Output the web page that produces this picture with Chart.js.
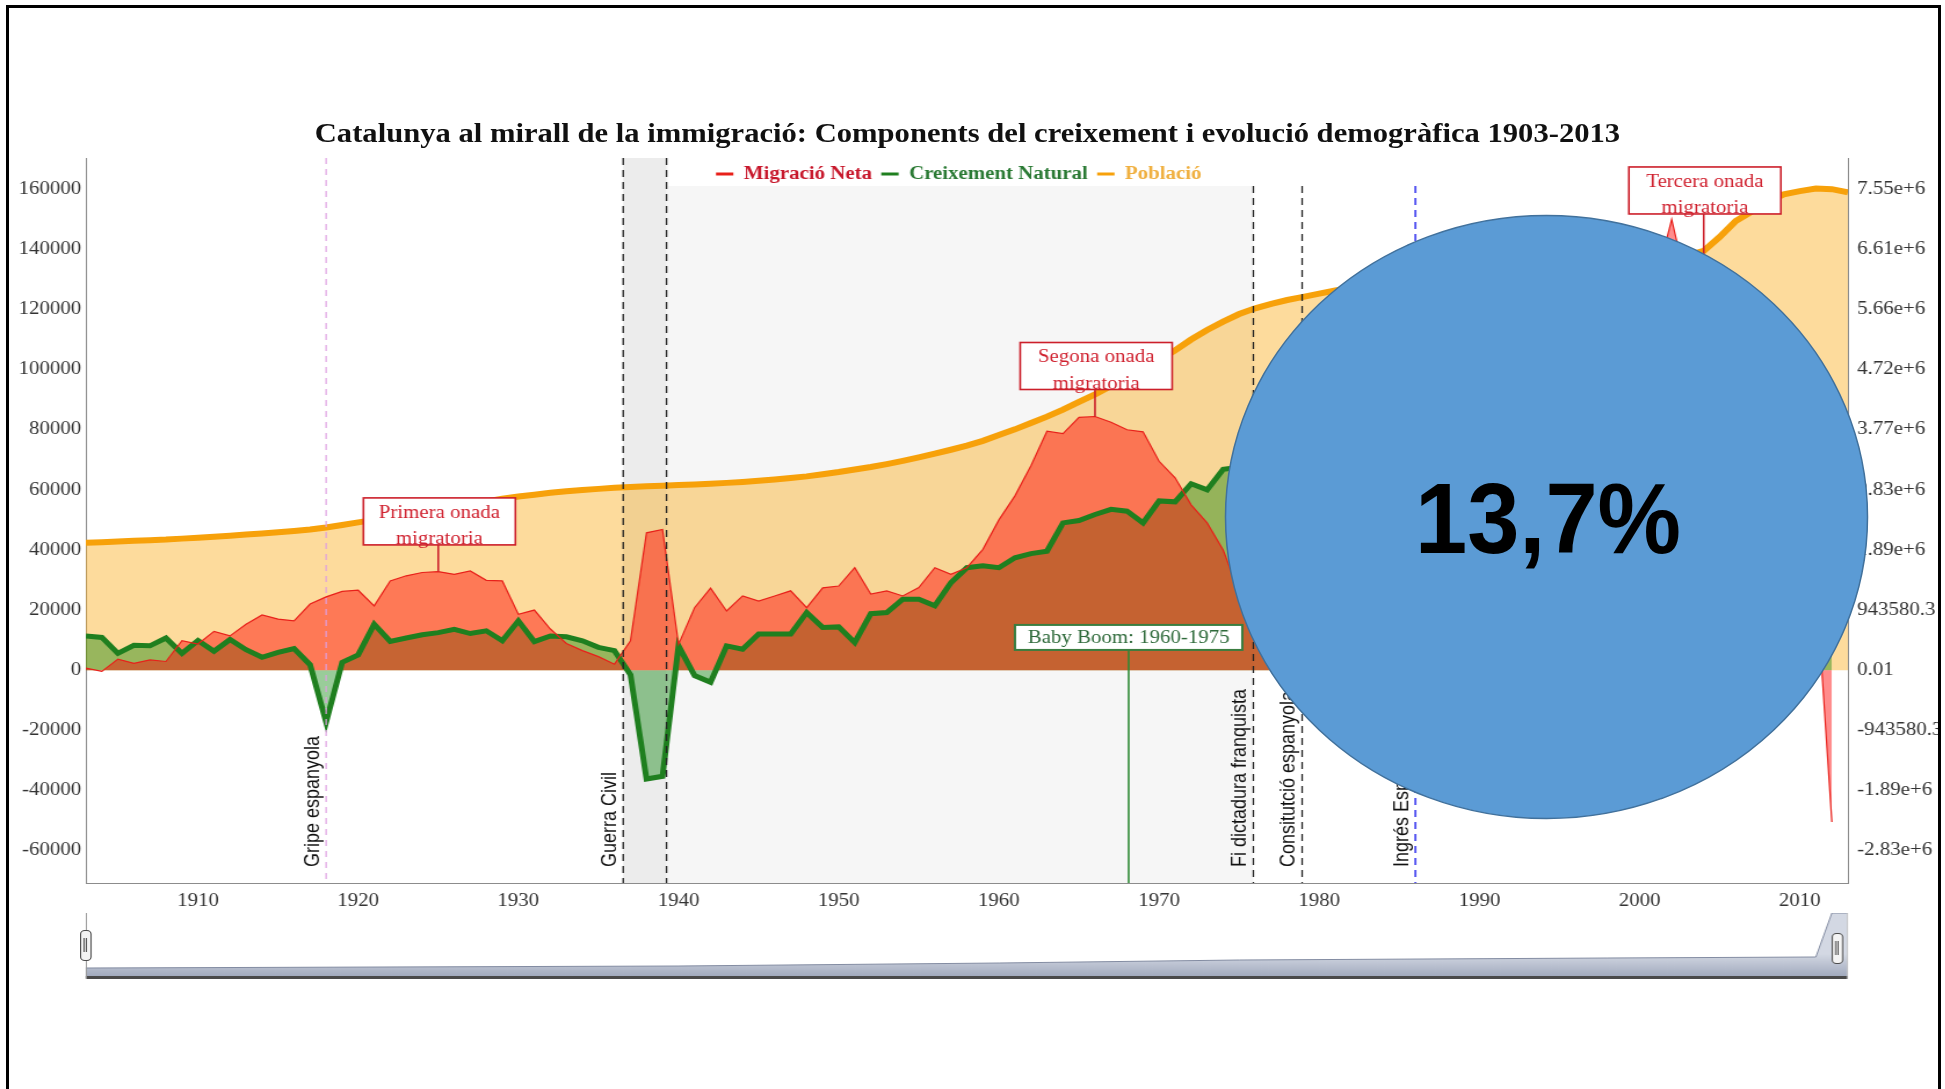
<!DOCTYPE html>
<html>
<head>
<meta charset="utf-8">
<script src="https://cdn.jsdelivr.net/npm/chart.js@4.4.1/dist/chart.umd.min.js"></script>
<style>
  html, body { margin: 0; padding: 0; background: #fff; width: 1945px; height: 1089px; overflow: hidden; }
  #frame { position: absolute; left: 6px; top: 5px; width: 1929px; height: 1200px; border: 3px solid #000; overflow: hidden; background: #fff; }
  #stage { position: absolute; left: -9px; top: -8px; width: 1677px; height: 1089px; transform: scaleX(1.16); transform-origin: 0 0; }
  #title { position: absolute; left: 0; top: 118px; width: 1668px; text-align: center; font: bold 26.4px "Liberation Serif"; line-height: 30px; color: #111; white-space: nowrap; }
  #chart { position: absolute; left: 0; top: 0; }
  #nav { position: absolute; left: 74px; top: 913px; }
  .navline { position: absolute; background: #9a9a9a; }
  .handle { position: absolute; width: 10px; height: 31px; background: #f4f4f4; border: 1.5px solid #4c4c4c; border-radius: 4px; box-sizing: border-box; }
  .handle::after { content: ''; position: absolute; left: 2px; top: 7px; width: 1px; height: 14px; border-left: 1px solid #4c4c4c; border-right: 1px solid #4c4c4c; }
  #badge { position: absolute; left: -9px; top: -8px; }
</style>
</head>
<body>
<div id="frame">
  <div id="stage">
    <div id="title">Catalunya al mirall de la immigració: Components del creixement i evolució demogràfica 1903-2013</div>
    <canvas id="chart" width="1677" height="1089"></canvas>
    <canvas id="nav" width="1519" height="65"></canvas>
    <div class="navline" style="left:74px;top:976px;width:1519px;height:3px;background:#4a4a4a"></div>
    <div class="navline" style="left:74px;top:913px;width:1px;height:66px"></div>
    <div class="navline" style="left:1592px;top:913px;width:1px;height:66px;background:#c8c8c8"></div>
    <div class="handle" style="left:69px;top:930px"></div>
    <div class="handle" style="left:1579px;top:933px"></div>
  </div>
  <svg id="badge" width="1945" height="1089">
    <ellipse cx="1546.5" cy="517" rx="321" ry="301.5" fill="#5b9bd5" stroke="#41719c" stroke-width="1.5"></ellipse>
    <text x="1548" y="553" text-anchor="middle" font-family="Liberation Sans" font-weight="bold" font-size="100" textLength="266" lengthAdjust="spacingAndGlyphs" fill="#000">13,7%</text>
  </svg>
</div>
<script>
// years on the x axis
var years = [
  1903, 1904, 1905, 1906, 1907, 1908, 1909,
  1910, 1911, 1912, 1913, 1914, 1915, 1916, 1917, 1918, 1919,
  1920, 1921, 1922, 1923, 1924, 1925, 1926, 1927, 1928, 1929,
  1930, 1931, 1932, 1933, 1934, 1935, 1936, 1937, 1938, 1939,
  1940, 1941, 1942, 1943, 1944, 1945, 1946, 1947, 1948, 1949,
  1950, 1951, 1952, 1953, 1954, 1955, 1956, 1957, 1958, 1959,
  1960, 1961, 1962, 1963, 1964, 1965, 1966, 1967, 1968, 1969,
  1970, 1971, 1972, 1973, 1974, 1975, 1976, 1977, 1978, 1979,
  1980, 1981, 1982, 1983, 1984, 1985, 1986, 1987, 1988, 1989,
  1990, 1991, 1992, 1993, 1994, 1995, 1996, 1997, 1998, 1999,
  2000, 2001, 2002, 2003, 2004, 2005, 2006, 2007, 2008, 2009,
  2010, 2011, 2012, 2013
];

// Migració Neta (persones/any)
var migracio = [
  700, -400, 3700, 2300, 3400, 2900, 9800,
  8700, 12900, 11400, 15300, 18400, 17000, 16400, 22000, 24400, 26200,
  26600, 21400, 29700, 31400, 32500, 32800, 31900, 33000, 29900, 29700,
  18600, 20000, 13700, 8900, 6500, 4500, 2000, 9800, 45700, 46800,
  8600, 20800, 27300, 19700, 24700, 23000, 24700, 26400, 20800, 27400,
  28000, 34100, 25300, 26400, 24700, 27500, 34100, 31900, 34100, 40200,
  50000, 58000, 68000, 79500, 78700, 84100, 84400, 82500, 80000, 79300,
  69500, 64000, 55000, 49000, 40000, 26000, 18000, 12000, 6000, 2000,
  -2000, -4000, -3000, -1000, 0, 2000, 4000, 6000, 8000, 10000,
  12000, 13000, 14000, 12000, 15000, 18000, 22000, 30000, 45000, 70000,
  100000, 129000, 150000, 127000, 120000, 110000, 100000, 95000, 75000, 40000,
  25000, 30000, -50500, null
];

// Creixement Natural (persones/any)
var creixement = [
  11400, 10900, 5600, 8300, 8100, 10700, 5600,
  9900, 6300, 10200, 6800, 4300, 5900, 7200, 1800, -17300, 2600,
  5100, 15300, 9600, 10700, 11800, 12500, 13600, 12200, 13100, 9800,
  16400, 9500, 11400, 11100, 9800, 7600, 6500, -1500, -36200, -35300,
  8100, -1800, -4000, 8100, 7000, 12000, 12000, 12000, 19200, 14200,
  14400, 9200, 18800, 19200, 23600, 23600, 21400, 29100, 34100, 34700,
  34100, 37400, 38800, 39600, 49000, 49800, 51800, 53500, 52900, 49000,
  56300, 56000, 62000, 60000, 66800, 67500, 66000, 60000, 52000, 44000,
  36000, 28000, 22000, 17000, 13000, 10000, 8000, 6000, 5000, 4000,
  3000, 2500, 2500, 2000, 2000, 1500, 2000, 3000, 4000, 6000,
  8000, 10000, 12000, 13000, 15000, 17000, 19000, 20000, 23000, 20000,
  19000, 16000, 12000, null
];

// Població (persones), eix dret
var poblacio = [
  2000000, 2010000, 2020000, 2030000, 2040000, 2050000, 2065000,
  2080000, 2095000, 2110000, 2128000, 2146000, 2165000, 2185000, 2207000, 2240000, 2280000,
  2320000, 2360000, 2400000, 2440000, 2485000, 2530000, 2570000, 2610000, 2650000, 2690000,
  2725000, 2755000, 2785000, 2808000, 2828000, 2846000, 2862000, 2875000, 2886000, 2896000,
  2906000, 2916000, 2927000, 2940000, 2955000, 2972000, 2992000, 3015000, 3042000, 3075000,
  3110000, 3150000, 3190000, 3235000, 3285000, 3340000, 3400000, 3460000, 3525000, 3600000,
  3690000, 3780000, 3880000, 3980000, 4090000, 4210000, 4330000, 4460000, 4590000, 4730000,
  4870000, 5020000, 5190000, 5340000, 5470000, 5590000, 5680000, 5750000, 5810000, 5860000,
  5910000, 5960000, 6000000, 6030000, 6050000, 6070000, 6080000, 6090000, 6100000, 6110000,
  6120000, 6130000, 6140000, 6150000, 6160000, 6170000, 6180000, 6200000, 6230000, 6280000,
  6330000, 6380000, 6440000, 6510000, 6580000, 6800000, 7050000, 7200000, 7350000, 7470000,
  7520000, 7560000, 7550000, 7500000
];

var xTicks = [1910, 1920, 1930, 1940, 1950, 1960, 1970, 1980, 1990, 2000, 2010];
var leftTicks = [-60000, -40000, -20000, 0, 20000, 40000, 60000, 80000, 100000, 120000, 140000, 160000];
var rightTickLabels = ['-2.83e+6', '-1.89e+6', '-943580.3', '0.01', '943580.3', '1.89e+6', '2.83e+6', '3.77e+6', '4.72e+6', '5.66e+6', '6.61e+6', '7.55e+6'];
var ratio = 943580.3 / 20000;

// esdeveniments (línies verticals)
var eventYears = [1918.0, 1936.545, 1939.25, 1975.886, 1978.93, 1986.0];
var eventLabels = ['Gripe espanyola', 'Guerra Civil', '', 'Fi dictadura franquista', 'Consitutció espanyola', 'Ingrés Espanya a la CEE'];

// mini gràfic del navegador
var navYears = [1903, 1940, 1960, 1975, 1998, 2011, 2012, 2013];
var navValues = [10, 12, 15, 18, 20, 21, 65, 65];

var seriesNames = ['Migració Neta', 'Creixement Natural', 'Població'];
var legendTextColors = ['#c8182c', '#2a7a34', '#f0b040'];

function pts(arr) {
  return years.map(function (yr, i) { return { x: yr, y: arr[i] }; });
}

var decor = {
  id: 'decor',
  afterLayout: function (chart) {
    var lg = chart.legend;
    lg.top = 157; lg.bottom = 197; lg.height = 40;
    lg.left -= 12; lg.right -= 12;
  },
  beforeDraw: function (chart) {
    var c = chart.ctx, a = chart.chartArea, x = chart.scales.x;
    var p1 = x.getPixelForValue(eventYears[1]);
    var p2 = x.getPixelForValue(eventYears[2]);
    var p3 = x.getPixelForValue(eventYears[3]);
    c.save();
    c.fillStyle = '#f6f6f6';
    c.fillRect(p2, a.top, p3 - p2, a.bottom - a.top);
    c.fillStyle = '#ececec';
    c.fillRect(p1, a.top, p2 - p1, a.bottom - a.top);
    // fons blanc de la llegenda
    c.fillStyle = '#fff';
    c.fillRect(p2 + 1, a.top, x.getPixelForValue(1987) - p2, 28);
    c.restore();
  },
  afterDatasetsDraw: function (chart) {
    var c = chart.ctx, a = chart.chartArea, x = chart.scales.x, y = chart.scales.y;
    var colors = ['#de9ee2', '#222', '#222', '#222', '#222', '#5050f0'];
    var widths = [1.2, 1.3, 1.3, 1.3, 1.3, 1.8];
    c.save();
    eventYears.forEach(function (yr, i) {
      var px = x.getPixelForValue(yr);
      var top = (yr > 1939.3 && yr < 1987) ? a.top + 28 : a.top;
      c.strokeStyle = colors[i];
      c.lineWidth = widths[i];
      c.setLineDash(i === 0 ? [6, 5] : [7, 5]);
      c.beginPath();
      c.moveTo(px, top);
      c.lineTo(px, a.bottom);
      c.stroke();
      if (eventLabels[i]) {
        c.save();
        c.translate(px - 2, a.bottom - 16);
        c.rotate(-Math.PI / 2);
        c.textAlign = 'left';
        c.textBaseline = 'bottom';
        c.fillStyle = '#111';
        c.font = '18px "Liberation Sans"';
        c.fillText(eventLabels[i], 0, 0);
        c.restore();
      }
    });
    c.setLineDash([]);

    // anotacions
    var notes = [
      { yr: 1925, val: 49500, lines: ['Primera onada', 'migratoria'] },
      { yr: 1966, val: 101200, lines: ['Segona onada', 'migratoria'] },
      { yr: 2004, val: 159600, lines: ['Tercera onada', 'migratoria'] }
    ];
    c.font = '18px "Liberation Serif"';
    c.textAlign = 'center';
    c.textBaseline = 'middle';
    notes.forEach(function (n) {
      var cx = x.getPixelForValue(n.yr) + 1, cy = y.getPixelForValue(n.val);
      var w = 131, h = 47, top = cy - h / 2;
      var target = y.getPixelForValue(migracio[years.indexOf(n.yr)]);
      c.strokeStyle = '#cc1f2a';
      c.lineWidth = 1.6;
      c.beginPath();
      c.moveTo(cx - 1, top + h);
      c.lineTo(cx - 1, target);
      c.stroke();
      c.fillStyle = '#fff';
      c.fillRect(cx - w / 2, top, w, h);
      c.fillStyle = '#d0202e';
      c.fillText(n.lines[0], cx, top + 15);
      c.fillText(n.lines[1], cx, top + 41.5);
      c.strokeRect(cx - w / 2, top, w, h);
    });

    // Baby Boom
    var bx = x.getPixelForValue(1968.1), by = y.getPixelForValue(10900);
    c.strokeStyle = '#2f8a36';
    c.lineWidth = 1.6;
    c.beginPath();
    c.moveTo(bx, by + 12.5);
    c.lineTo(bx, a.bottom);
    c.stroke();
    c.fillStyle = '#fff';
    c.fillRect(bx - 98, by - 12.5, 196, 25);
    c.lineWidth = 2;
    c.strokeStyle = '#3a7d40';
    c.strokeRect(bx - 98, by - 12.5, 196, 25);
    c.fillStyle = '#2e6a3a';
    c.fillText('Baby Boom: 1960-1975', bx, by + 1);
    c.restore();
  }
};

var tickFont = { family: 'Liberation Serif', size: 18 };

new Chart(document.getElementById('chart').getContext('2d'), {
  type: 'line',
  data: {
    datasets: [
      {
        label: seriesNames[0], data: pts(migracio), order: 0,
        borderColor: '#e8201a', borderWidth: 1.2,
        backgroundColor: 'rgba(255,0,0,0.45)', fill: 'origin'
      },
      {
        label: seriesNames[1], data: pts(creixement), order: 1,
        borderColor: '#1f7f1f', borderWidth: 5,
        backgroundColor: 'rgba(0,128,0,0.4)', fill: 'origin'
      },
      {
        label: seriesNames[2], data: pts(poblacio), order: 2, yAxisID: 'y2',
        borderColor: '#f7a10a', borderWidth: 6,
        backgroundColor: 'rgba(250,170,20,0.42)', fill: 'origin'
      }
    ]
  },
  options: {
    responsive: false,
    animation: false,
    devicePixelRatio: 1,
    layout: { padding: { top: 157, bottom: 166, left: 0, right: 0 } },
    elements: { point: { radius: 0 }, line: { tension: 0 } },
    plugins: {
      title: { display: false },
      tooltip: { enabled: false },
      filler: { drawTime: 'beforeDatasetsDraw' },
      legend: {
        display: true,
        position: 'top',
        align: 'center',
        maxHeight: 1,
        labels: {
          usePointStyle: true,
          pointStyle: 'line',
          pointStyleWidth: 15,
          padding: 8,
          font: { family: 'Liberation Serif', size: 18, weight: 'bold' },
          sort: function (a, b) { return a.datasetIndex - b.datasetIndex; },
          generateLabels: function (chart) {
            var items = Chart.defaults.plugins.legend.labels.generateLabels(chart);
            items.forEach(function (it) {
              it.fontColor = legendTextColors[it.datasetIndex];
              it.lineWidth = 3;
              it.pointStyle = 'line';
            });
            return items;
          }
        }
      }
    },
    scales: {
      x: {
        type: 'linear', min: 1903, max: 2013, z: 1,
        afterFit: function (s) { s.height = 40; },
        afterBuildTicks: function (s) {
          s.ticks = xTicks.map(function (v) { return { value: v }; });
        },
        grid: { display: false, drawTicks: false },
        border: { display: true, color: '#8c8c8c', width: 1 },
        ticks: {
          autoSkip: false, maxRotation: 0, padding: 7,
          color: '#333', font: tickFont,
          callback: function (v) { return String(v); }
        }
      },
      y: {
        type: 'linear', position: 'left', min: -70800, max: 170400, z: 1,
        afterFit: function (s) { s.width = 74; },
        afterBuildTicks: function (s) {
          s.ticks = leftTicks.map(function (v) { return { value: v }; });
        },
        grid: { display: false, drawTicks: false },
        border: { display: true, color: '#8c8c8c', width: 1 },
        ticks: {
          autoSkip: false, padding: 4,
          color: '#333', font: tickFont,
          callback: function (v) { return String(v); }
        }
      },
      y2: {
        type: 'linear', position: 'right', min: -70800 * ratio, max: 170400 * ratio, z: 1,
        afterFit: function (s) { s.width = 84; },
        afterBuildTicks: function (s) {
          s.ticks = leftTicks.map(function (v) { return { value: v * ratio }; });
        },
        grid: { display: false, drawTicks: false },
        border: { display: true, color: '#8c8c8c', width: 1 },
        ticks: {
          autoSkip: false, padding: 8, color: '#333', font: tickFont,
          callback: function (v, i) { return rightTickLabels[i]; }
        }
      }
    }
  },
  plugins: [decor]
});

new Chart(document.getElementById('nav').getContext('2d'), {
  type: 'line',
  data: {
    datasets: [{
      data: navYears.map(function (yr, i) { return { x: yr, y: navValues[i] }; }),
      borderColor: '#838ca2',
      borderWidth: 1,
      fill: 'origin',
      backgroundColor: function (ctx) {
        var a = ctx.chart.chartArea;
        if (!a) return '#c0c6d4';
        var g = ctx.chart.ctx.createLinearGradient(0, a.bottom - 24, 0, a.bottom);
        g.addColorStop(0, '#d3d8e3');
        g.addColorStop(1, '#9ea7bb');
        return g;
      }
    }]
  },
  options: {
    responsive: false,
    animation: false,
    devicePixelRatio: 1,
    layout: { padding: 0 },
    elements: { point: { radius: 0 }, line: { tension: 0 } },
    plugins: { legend: { display: false }, tooltip: { enabled: false } },
    scales: {
      x: { type: 'linear', min: 1903, max: 2013, display: false },
      y: { min: 0, max: 65, display: false }
    }
  }
});
</script>
</body>
</html>
